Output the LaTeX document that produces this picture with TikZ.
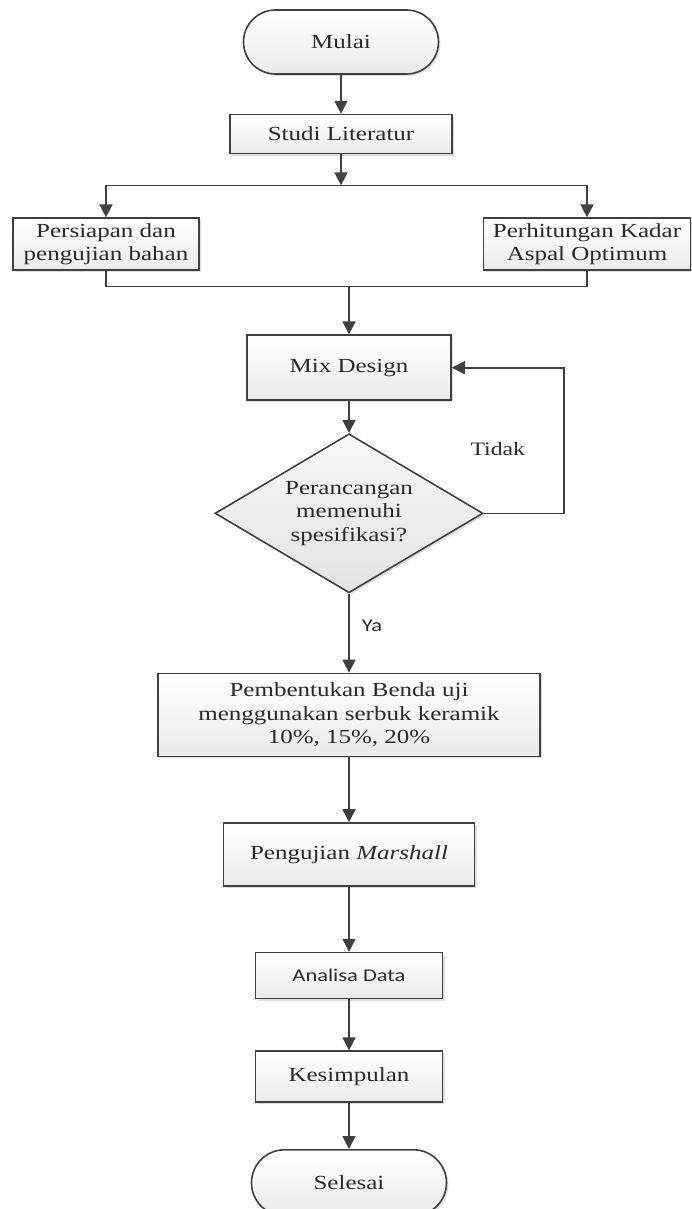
\documentclass[tikz,border=0pt]{standalone}
\usepackage{fontspec}
\setmainfont{Liberation Serif}[FakeStretch=1.25]
\newfontfamily\sansfont{Carlito}[FakeStretch=1.25]
\usetikzlibrary{positioning,shapes.geometric,shapes.misc,arrows.meta,shadows}

\definecolor{linegray}{HTML}{404040}
\definecolor{textgray}{HTML}{2A2A2A}

\tikzset{
  box/.style={draw=linegray, line width=0.8pt, top color=white, bottom color=gray!16,
    text=textgray, align=center, inner sep=2pt, font=\fontsize{10}{11.7}\selectfont,
    drop shadow={opacity=0.25, shadow xshift=1pt, shadow yshift=-1pt}},
  term/.style={box, rounded rectangle},
  decision/.style={box, diamond, aspect=1.7, inner sep=0pt, top color=gray!6, bottom color=gray!22},
  conn/.style={draw=linegray, line width=0.8pt},
  arr/.style={conn, -{Triangle[width=6.5pt,length=6.5pt]}},
  lbl/.style={text=textgray, inner sep=0pt, font=\fontsize{9.5}{11}\selectfont},
}

\begin{document}
\begin{tikzpicture}

    % Frame
    \useasboundingbox (0,0) rectangle (345.5pt,-604.5pt);

    % Define nodes
    \node[term, minimum width=101.5pt, minimum height=32pt] (mulai) at (170.5pt,-21pt) {Mulai};
    \node[box, minimum width=111pt, minimum height=19.5pt, below=19.5pt of mulai] (studi) {Studi Literatur};
    \coordinate[below=15.5pt of studi] (split);

    \node[box, minimum width=93pt, minimum height=26pt, below=31.5pt of studi, xshift=-117.5pt] (persiapan) {Persiapan dan\\pengujian bahan};
    \node[box, minimum width=103.5pt, minimum height=26pt, below=31.5pt of studi, xshift=123pt] (kadar) {Perhitungan Kadar\\Aspal Optimum};

    \node[box, minimum width=102pt, minimum height=32.5pt, below=90pt of studi, xshift=4pt] (mix) {Mix Design};
    \coordinate[above=24pt of mix] (join);
    \node[decision, minimum width=134pt, minimum height=79.5pt, below=16pt of mix] (cek) {Perancangan\\memenuhi\\spesifikasi?};
    \coordinate[right=40pt of cek.east] (loop);
    \node[lbl, above=28.5pt of cek.east, xshift=7pt] (tidak) {Tidak};
    \node[lbl, font=\sansfont\fontsize{9}{11}\selectfont, below=13pt of cek.south, xshift=11.5pt] (ya) {Ya};

    \node[box, minimum width=191pt, minimum height=41.5pt, below=39.5pt of cek] (bentuk) {Pembentukan Benda uji\\menggunakan serbuk keramik\\10\%, 15\%, 20\%};
    \node[box, minimum width=125.5pt, minimum height=31.5pt, below=32.5pt of bentuk] (marshall) {Pengujian \textit{Marshall}};
    \node[box, font=\sansfont\fontsize{9}{11}\selectfont, minimum width=93.5pt, minimum height=23pt, below=32.5pt of marshall] (analisa) {Analisa Data};
    \node[box, minimum width=93.5pt, minimum height=25.5pt, below=25.5pt of analisa] (simpul) {Kesimpulan};
    \node[term, minimum width=101.5pt, minimum height=33pt, below=23pt of simpul] (selesai) {Selesai};

    % Connect the nodes
    \draw[arr] (mulai) -- (studi);
    \draw[arr] (studi) -- (split);
    \draw[arr] (split) -| (persiapan);
    \draw[arr] (split) -| (kadar);
    \draw[conn] (persiapan) |- (join) -| (kadar);
    \draw[arr] (join) -- (mix);
    \draw[arr] (mix) -- (cek);
    \draw[arr] (cek.east) -- (loop) |- (mix);
    \draw[arr] (cek) -- (bentuk);
    \draw[arr] (bentuk) -- (marshall);
    \draw[arr] (marshall) -- (analisa);
    \draw[arr] (analisa) -- (simpul);
    \draw[arr] (simpul) -- (selesai);

\end{tikzpicture}
\end{document}
